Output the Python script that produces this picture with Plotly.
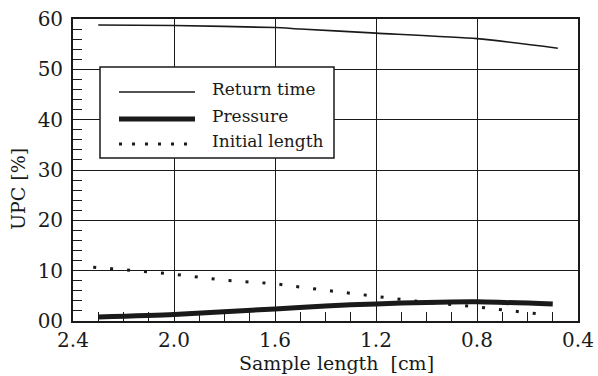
import plotly.graph_objects as go

# ---------------- data ----------------
series_names = ["Return time", "Pressure", "Initial length"]

return_time_x = [2.3, 2.0, 1.6, 1.5, 1.2, 0.8, 0.48]
return_time_y = [58.8, 58.7, 58.3, 58.0, 57.2, 56.1, 54.2]

pressure_x = [2.3, 2.0, 1.6, 1.4, 1.2, 1.0, 0.8, 0.5]
pressure_y = [0.8, 1.3, 2.4, 3.0, 3.4, 3.7, 3.8, 3.4]

initial_x = [2.32, 2.0, 1.8, 1.6, 1.4, 1.2, 1.0, 0.8, 0.6, 0.52]
initial_y = [10.7, 9.3, 8.1, 7.4, 6.1, 4.9, 3.7, 2.8, 1.6, 1.2]

x_title = "Sample length  [cm]"
y_title = "UPC [%]"

# ---------------- layout constants ----------------
W, H = 598, 376
L, R, T, B = 73, 20, 19, 55
PW, PH = W - L - R, H - T - B
FONT = "DejaVu Serif"
INK = "#1a1a1a"


def px(x):
    return (x - L) / PW


def py(y):
    return (H - B - y) / PH


fig = go.Figure()

styles = [
    dict(color=INK, width=1.6),
    dict(color=INK, width=5),
    dict(color=INK, width=3, dash="3px,14px"),
]
data = [(return_time_x, return_time_y), (pressure_x, pressure_y), (initial_x, initial_y)]
for name, (xs, ys), st in zip(series_names, data, styles):
    line = dict(st)
    if name != "Initial length":
        line.update(shape="spline", smoothing=0.6)
    fig.add_trace(go.Scatter(x=xs, y=ys, mode="lines", name=name, line=line, showlegend=False))

# ---------------- custom legend ----------------
shapes = [dict(type="rect", xref="paper", yref="paper",
               x0=px(100), x1=px(334), y0=py(67), y1=py(158),
               line=dict(color=INK, width=1.5), fillcolor="white", layer="above")]
rows = [92, 119, 144]
annotations = []
for name, st, ry in zip(series_names, styles, rows):
    ln = dict(color=st["color"], width=st["width"])
    if "dash" in st:
        ln["dash"] = "3px,10px"
    shapes.append(dict(type="line", xref="paper", yref="paper",
                       x0=px(119), x1=px(195), y0=py(ry), y1=py(ry),
                       line=ln, layer="above"))
    annotations.append(dict(xref="paper", yref="paper", x=px(210), y=py(ry - 3),
                            xanchor="left", yanchor="middle", showarrow=False,
                            text=name, font=dict(family=FONT, size=17, color=INK)))

# axis titles
annotations.append(dict(xref="paper", yref="paper", x=px(336), y=py(376),
                        xanchor="center", yanchor="bottom", showarrow=False,
                        text=x_title, font=dict(family=FONT, size=19, color=INK)))
annotations.append(dict(xref="paper", yref="paper", x=px(18), y=py(189),
                        xanchor="center", yanchor="middle", showarrow=False, textangle=-90,
                        text=y_title, font=dict(family=FONT, size=19, color=INK)))

axis_common = dict(
    showline=True, linecolor=INK, linewidth=1.8, mirror=True,
    showgrid=True, gridcolor=INK, gridwidth=1.3,
    ticks="inside", ticklen=9, tickwidth=1.3, tickcolor=INK,
    tickfont=dict(family=FONT, size=20, color=INK),
    zeroline=False, automargin=False,
)

fig.update_layout(
    width=W, height=H,
    margin=dict(l=L, r=R, t=T, b=B, autoexpand=False),
    paper_bgcolor="white", plot_bgcolor="white",
    shapes=shapes, annotations=annotations,
    showlegend=False,
    xaxis=dict(range=[2.4, 0.4], tickmode="linear", tick0=0.4, dtick=0.4, tickformat=".1f",
               ticklabelstandoff=0,
               minor=dict(tickmode="linear", tick0=0, dtick=0.1, ticks="inside", ticklen=9,
                          tickwidth=1.3, tickcolor=INK, showgrid=False),
               **axis_common),
    yaxis=dict(range=[0, 60], tickmode="linear", tick0=0, dtick=10,
               labelalias={"0": "00"}, ticklabelstandoff=4,
               minor=dict(tickmode="linear", tick0=0, dtick=2, ticks="inside", ticklen=9,
                          tickwidth=1.3, tickcolor=INK, showgrid=False),
               **axis_common),
)

fig.write_html(
    "out.html",
    config={"displayModeBar": False},
    post_script="document.body.style.margin='0';document.body.style.overflow='hidden';",
)
